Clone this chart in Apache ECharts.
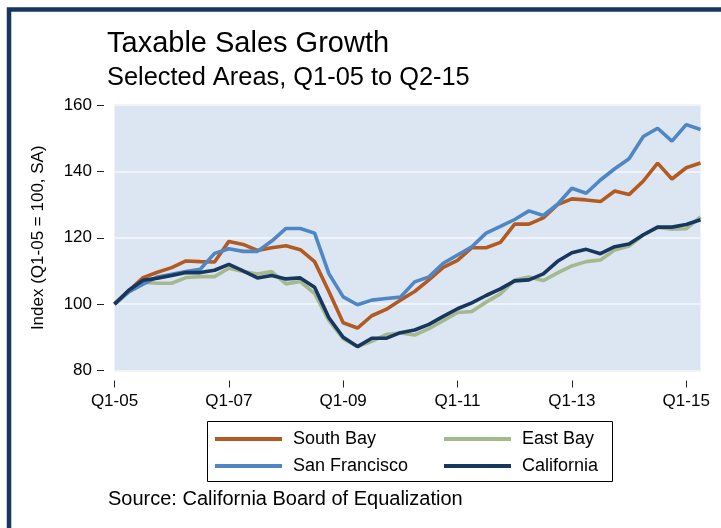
<!DOCTYPE html>
<html>
<head>
<meta charset="utf-8">
<script src="https://cdn.jsdelivr.net/npm/echarts@6/dist/echarts.min.js"></script>
<style>
  html, body { margin: 0; padding: 0; background: #fff; }
  #main { width: 721px; height: 528px; }
</style>
</head>
<body>
<div id="main"></div>
<script>
// quarters Q1-05 .. Q2-15
var quarters = [
  'Q1-05','Q2-05','Q3-05','Q4-05','Q1-06','Q2-06','Q3-06','Q4-06',
  'Q1-07','Q2-07','Q3-07','Q4-07','Q1-08','Q2-08','Q3-08','Q4-08',
  'Q1-09','Q2-09','Q3-09','Q4-09','Q1-10','Q2-10','Q3-10','Q4-10',
  'Q1-11','Q2-11','Q3-11','Q4-11','Q1-12','Q2-12','Q3-12','Q4-12',
  'Q1-13','Q2-13','Q3-13','Q4-13','Q1-14','Q2-14','Q3-14','Q4-14',
  'Q1-15','Q2-15'
];

var southBay = [
  100, 104, 108, 109.6, 111, 113, 112.8, 112.7,
  118.9, 118, 116.2, 117, 117.6, 116.4, 112.8, 103.8,
  94.4, 92.8, 96.5, 98.4, 101.2, 103.8, 107.3, 111.1,
  113.2, 117, 117, 118.6, 124.1, 124.1, 126, 130,
  131.7, 131.4, 130.9, 134.1, 133, 137.1, 142.5, 137.7,
  141.1, 142.5
];
var eastBay = [
  100, 103.7, 106.6, 106.3, 106.3, 108, 108.3, 108.3,
  110.8, 109.8, 109.1, 109.8, 106.1, 106.8, 103.2, 95,
  89.6, 87.2, 88.8, 90.8, 91.3, 90.7, 92.6, 95,
  97.5, 97.8, 100.6, 103.1, 107.3, 108.2, 107.1, 109.4,
  111.5, 112.8, 113.3, 116.3, 117.5, 120.8, 123.1, 122.6,
  122.7, 126.3
];
var sanFrancisco = [
  100, 103.7, 106, 108.2, 109, 109.8, 110.5, 115.3,
  116.7, 115.9, 115.9, 119, 122.8, 122.8, 121.4, 109.2,
  102.2, 99.8, 101.2, 101.7, 102.1, 106.7, 108.2, 112.3,
  114.8, 117.3, 121.4, 123.4, 125.5, 128.1, 126.7, 130.1,
  134.9, 133.4, 137.4, 140.8, 143.8, 150.5, 153, 149.1,
  154.1, 152.6
];
var california = [
  100, 104.2, 107.2, 107.8, 108.6, 109.5, 109.5, 110.2,
  112, 110, 107.9, 108.6, 107.6, 107.9, 105.1, 95.9,
  90, 87.2, 89.7, 89.7, 91.4, 92.2, 93.9, 96.3,
  98.6, 100.4, 102.6, 104.6, 107, 107.3, 109.1, 112.9,
  115.5, 116.5, 115.2, 117.3, 118.1, 120.9, 123.2, 123.2,
  124, 125.4
];

var colors = {
  'South Bay': '#b35a22',
  'East Bay': '#a5b98f',
  'San Francisco': '#4f86c4',
  'California': '#17375e'
};

var font = 'Liberation Sans, Arial, Helvetica, sans-serif';

function mkSeries(name, data) {
  return {
    name: name,
    type: 'line',
    data: data,
    symbol: 'none',
    color: colors[name],
    lineStyle: { width: 3.6, color: colors[name] }
  };
}

var chart = echarts.init(document.getElementById('main'), null, { renderer: 'canvas' });

var legendBase = {
  orient: 'vertical',
  top: 430,
  padding: 0,
  itemWidth: 67,
  itemHeight: 4,
  itemGap: 9,
  icon: 'rect',
  selectedMode: false,
  textStyle: { fontFamily: font, fontSize: 18, color: '#000', lineHeight: 18, padding: [0, 0, 0, 6] }
};

chart.setOption({
  animation: false,
  backgroundColor: '#fff',
  textStyle: { fontFamily: font },
  title: [
    { text: 'Taxable Sales Growth', left: 107, top: 29, padding: 0,
      textStyle: { fontFamily: font, fontSize: 29, fontWeight: 'normal', color: '#000' } },
    { text: 'Selected Areas, Q1-05 to Q2-15', left: 107, top: 65, padding: 0,
      textStyle: { fontFamily: font, fontSize: 25.4, fontWeight: 'normal', color: '#000' } }
  ],
  legend: [
    Object.assign({}, legendBase, { left: 215, data: ['South Bay', 'San Francisco'] }),
    Object.assign({}, legendBase, { left: 444, data: ['East Bay', 'California'] })
  ],
  grid: {
    left: 114.5, right: 20.5, top: 105, bottom: 157.5,
    show: true, backgroundColor: '#dce6f2', borderWidth: 0
  },
  xAxis: {
    type: 'category',
    data: quarters,
    boundaryGap: false,
    offset: 10,
    axisLine: { show: false },
    axisTick: { show: true, interval: 7, length: 7, lineStyle: { color: '#222', width: 1 } },
    axisLabel: { interval: 7, margin: 12, fontSize: 17, color: '#000', fontFamily: font },
    splitLine: { show: false }
  },
  yAxis: {
    type: 'value',
    min: 80, max: 160, interval: 20,
    offset: 10.5,
    name: 'Index (Q1-05 = 100, SA)',
    nameLocation: 'middle',
    nameGap: 57,
    nameTextStyle: { fontFamily: font, fontSize: 17, color: '#000' },
    axisLine: { show: false },
    axisTick: { show: true, length: 7, lineStyle: { color: '#222', width: 1 } },
    axisLabel: { margin: 12, fontSize: 17, color: '#000', fontFamily: font },
    splitLine: { show: true, lineStyle: { color: '#f0f4fa', width: 2 } }
  },
  series: [
    mkSeries('South Bay', southBay),
    mkSeries('East Bay', eastBay),
    mkSeries('San Francisco', sanFrancisco),
    mkSeries('California', california)
  ],
  graphic: [
    { type: 'rect', silent: true, z: 100,
      shape: { x: 9, y: 9.5, width: 900, height: 700 },
      style: { fill: null, stroke: '#17375e', lineWidth: 4.5 } },
    { type: 'rect', silent: true,
      shape: { x: 207.5, y: 421.5, width: 405, height: 60 },
      style: { fill: null, stroke: '#000', lineWidth: 1 } },
    { type: 'text', silent: true, left: 108, top: 489,
      style: { text: 'Source: California Board of Equalization', fontFamily: font, fontSize: 20, fill: '#000' } }
  ]
});
</script>
</body>
</html>
